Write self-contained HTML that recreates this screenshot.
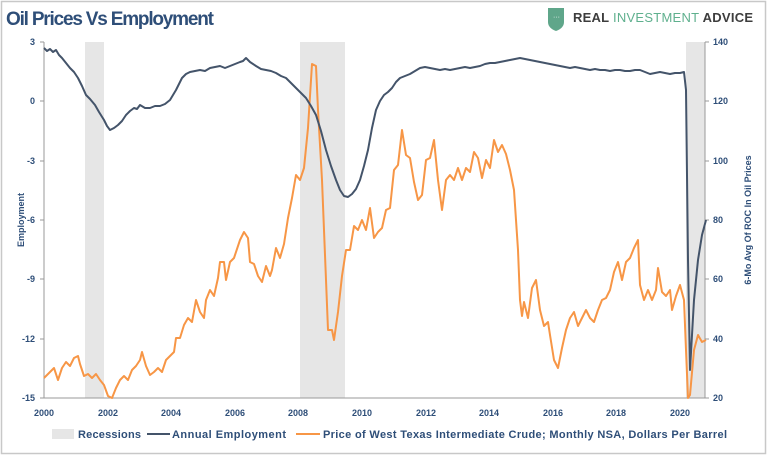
<!DOCTYPE html>
<html><head><style>
body{margin:0;background:#fff;}
svg{display:block;font-family:"Liberation Sans",sans-serif;}
</style></head><body>
<svg width="768" height="458" viewBox="0 0 768 458">
<rect x="1.5" y="1.5" width="764" height="452" fill="#fff" stroke="#c8c8c8" stroke-width="1.5"/>
<text x="6" y="25" font-size="19" font-weight="bold" fill="#2e4e78" font-family="Liberation Sans Narrow, Liberation Sans, sans-serif" textLength="208">Oil Prices Vs Employment</text>
<path d="M548 8 h16 v14 q0 6 -8 9 q-8 -3 -8 -9z" fill="#5fa68a"/>
<text x="553" y="19" font-size="7" fill="#fff">···</text>
<text x="573" y="22" font-size="13" font-weight="bold" fill="#3d3d3d" textLength="180">REAL <tspan fill="#5fb08e" font-weight="normal">INVESTMENT</tspan> ADVICE</text>
<g fill="#e6e6e6">
<rect x="85" y="42" width="19" height="356"/>
<rect x="300" y="42" width="45" height="356"/>
<rect x="686" y="42" width="19" height="356"/>
</g>
<g stroke="#999" stroke-width="1">
<line x1="44" y1="42" x2="44" y2="398"/>
<line x1="705" y1="42" x2="705" y2="398"/>
<line x1="44" y1="398" x2="705" y2="398"/>
<path d="M40 42h4M40 101h4M40 161h4M40 220h4M40 279h4M40 339h4M40 398h4M705 42h4M705 101h4M705 161h4M705 220h4M705 279h4M705 339h4M705 398h4"/>
</g>
<g font-size="9" font-weight="bold" fill="#2e4e78" text-anchor="end">
<text x="35" y="45">3</text><text x="35" y="104">0</text><text x="35" y="164">-3</text><text x="35" y="223">-6</text><text x="35" y="282">-9</text><text x="35" y="342">-12</text><text x="35" y="401">-15</text>
</g>
<g font-size="9" font-weight="bold" fill="#2e4e78">
<text x="713" y="45">140</text><text x="713" y="104">120</text><text x="713" y="164">100</text><text x="713" y="223">80</text><text x="713" y="282">60</text><text x="713" y="342">40</text><text x="713" y="401">20</text>
</g>
<g font-size="9" font-weight="bold" fill="#2e4e78" text-anchor="middle">
<text x="44" y="416">2000</text><text x="108" y="416">2002</text><text x="171" y="416">2004</text><text x="235" y="416">2006</text><text x="298" y="416">2008</text><text x="362" y="416">2010</text><text x="426" y="416">2012</text><text x="489" y="416">2014</text><text x="553" y="416">2016</text><text x="616" y="416">2018</text><text x="680" y="416">2020</text>
</g>
<text transform="translate(24,220) rotate(-90)" font-size="9" font-weight="bold" fill="#2e4e78" text-anchor="middle">Employment</text>
<text transform="translate(751,220) rotate(-90)" font-size="9" font-weight="bold" fill="#2e4e78" text-anchor="middle">6-Mo Avg Of ROC In Oil Prices</text>
<polyline fill="none" stroke="#f79646" stroke-width="2" stroke-linejoin="round" points="44,378 50,372 54,368 58,380 62,368 66,362 70,366 74,358 78,356 80,364 84,376 88,374 92,378 96,374 100,380 104,385 108,396 112,398 116,388 120,380 124,376 128,380 132,370 136,366 140,360 142,352 146,366 150,375 154,372 158,368 162,372 166,360 170,356 174,352 176,338 180,338 184,325 188,318 192,322 196,300 200,312 204,318 206,300 210,290 214,296 218,278 220,262 224,262 226,280 230,262 234,258 240,240 244,232 248,238 250,262 254,264 258,276 262,282 266,266 270,276 272,270 276,248 280,258 284,244 288,218 292,198 296,175 300,180 304,168 308,128 312,64 316,66 318,110 322,180 326,280 328,330 332,330 334,340 338,312 342,276 346,250 350,250 354,226 358,230 362,220 366,230 370,208 374,238 378,232 382,228 386,210 390,208 394,170 398,165 402,130 406,155 410,158 414,182 418,200 422,195 426,160 430,158 434,140 438,180 442,210 446,180 450,175 454,180 458,168 462,180 466,168 470,172 474,152 478,158 482,178 486,160 490,168 494,140 498,152 502,145 506,154 510,170 514,190 518,250 520,300 522,316 524,302 528,318 532,288 536,280 540,310 544,326 548,322 550,335 554,360 558,368 562,348 566,330 570,318 574,312 578,326 582,318 586,310 590,318 594,322 598,310 602,300 606,298 610,290 614,272 618,262 622,280 626,262 630,258 634,248 638,240 640,285 644,300 648,290 652,300 656,290 658,268 662,292 666,296 670,290 672,310 676,296 680,285 684,300 686,350 688,398 690,395 694,350 698,335 702,342 706,340"/>
<polyline fill="none" stroke="#44546a" stroke-width="2" stroke-linejoin="round" points="44,48 47,51 50,49 53,52 56,50 59,55 62,58 66,63 70,68 74,72 78,78 82,86 86,95 90,99 95,105 99,112 104,120 107,126 110,130 114,128 118,125 122,121 126,115 130,111 134,108 137,109 140,105 145,108 150,108 155,106 160,106 165,104 170,100 173,95 176,90 179,84 182,78 186,74 190,72 195,71 200,70 205,71 210,68 215,67 220,66 225,68 230,66 235,64 240,62 243,61 246,58 250,62 256,66 261,69 266,70 271,71 276,73 281,76 286,78 291,83 296,88 301,93 306,98 311,106 316,115 321,131 326,150 331,166 336,180 340,190 344,196 348,197 352,194 356,189 360,180 364,166 368,150 372,128 376,110 380,101 384,95 388,92 392,88 396,82 400,78 405,76 410,74 415,71 420,68 425,67 430,68 435,69 440,70 445,69 450,70 455,69 460,68 465,67 470,68 475,67 480,66 485,64 490,63 495,63 500,62 505,61 510,60 515,59 520,58 525,59 530,60 535,61 540,62 545,63 550,64 555,65 560,66 565,67 570,68 575,67 580,68 585,69 590,70 595,69 600,70 605,70 610,71 615,70 620,70 625,71 630,71 635,70 640,70 645,72 650,74 655,73 660,72 665,73 670,74 675,73 680,73 684,72 686,90 688,260 690,370 694,300 698,260 702,235 706,220"/>
<rect x="52" y="429" width="22" height="10" fill="#e6e6e6"/>
<g font-size="11" font-weight="bold" fill="#2e4e78">
<text x="78" y="438" textLength="63">Recessions</text>
<line x1="147" y1="434" x2="170" y2="434" stroke="#44546a" stroke-width="2"/>
<text x="172" y="438" textLength="114">Annual Employment</text>
<line x1="296" y1="434" x2="320" y2="434" stroke="#f79646" stroke-width="2"/>
<text x="323" y="438" textLength="404">Price of West Texas Intermediate Crude; Monthly NSA, Dollars Per Barrel</text>
</g>
</svg>
</body></html>
